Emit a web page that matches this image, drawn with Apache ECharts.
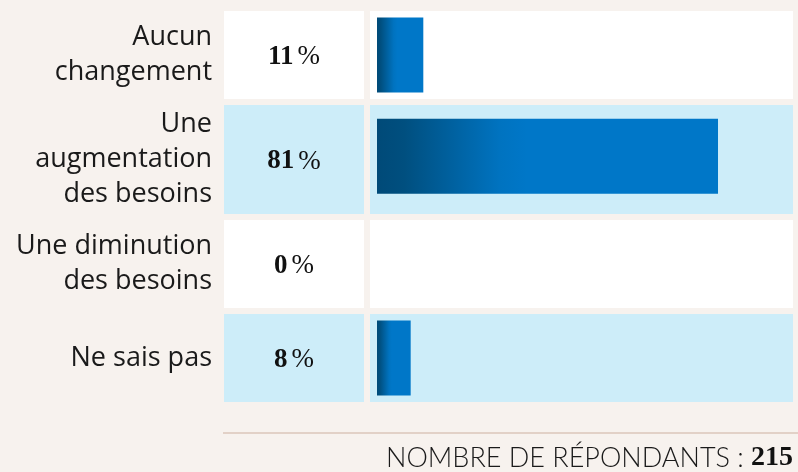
<!DOCTYPE html>
<html>
<head>
<meta charset="utf-8">
<script src="https://cdn.jsdelivr.net/npm/echarts@6/dist/echarts.min.js"></script>
<style>
  html, body { margin: 0; padding: 0; background: #f7f2ee; }
  #chart { width: 798px; height: 472px; }
</style>
</head>
<body>
<div id="chart"></div>
<script>
// données
const categories = ['Aucun\nchangement', 'Une\naugmentation\ndes besoins', 'Une diminution\ndes besoins', 'Ne sais pas']
const values = [11, 81, 0, 8]
const respondents = 215

// hauteur de ligne selon le nombre de lignes du libellé
const rowGap = 6
const rowHeights = categories.map(c => Math.max(88, c.split('\n').length * 35 + 4))
const rows = []
let acc = 0
rowHeights.forEach((h, i) => {
  rows.push([values[i], acc, acc + h, i])
  acc += h + rowGap
})
const totalH = acc - rowGap

const barGradient = new echarts.graphic.LinearGradient(0, 0, 1, 0, [
  { offset: 0, color: '#004a78' },
  { offset: 0.08, color: '#004f7f' },
  { offset: 0.36, color: '#0073c0' },
  { offset: 0.44, color: '#0077c8' },
  { offset: 1, color: '#0077c8' },
])

function renderRow(params, api) {
  const v = api.value(0)
  const y0 = api.value(1)
  const y1 = api.value(2)
  const i = api.value(3)
  const p0 = api.coord([0, y0])
  const p1 = api.coord([0, y1])
  const xEnd = api.coord([v, y0])[0]
  const top = p0[1]
  const h = p1[1] - top
  const x0 = p0[0]
  const fill = i % 2 === 1 ? '#cdedf9' : '#ffffff'
  const barH = 75
  // la barre reste un peu au-dessus du centre dans les lignes hautes
  const barY = top + 6.5 + (h - 88) * 0.35
  return {
    type: 'group',
    children: [
      // case du pourcentage
      { type: 'rect', shape: { x: x0 - 153, y: top, width: 140, height: h }, style: { fill: fill } },
      // case de la barre
      { type: 'rect', shape: { x: x0 - 7, y: top, width: 423, height: h }, style: { fill: fill } },
      {
        type: 'rect',
        shape: { x: x0, y: barY, width: Math.max(0, xEnd - x0), height: barH },
        style: { fill: barGradient },
      },
      {
        type: 'text',
        x: x0 - 165,
        y: top + h / 2,
        style: {
          text: categories[i],
          align: 'right',
          verticalAlign: 'middle',
          font: '27px "Open Sans"',
          lineHeight: 35,
          fill: '#1a1a1a',
        },
      },
      {
        type: 'text',
        x: x0 - 83,
        y: top + h / 2 + 2,
        style: {
          text: '{n|' + v + '}{s| }{p|%}',
          align: 'center',
          verticalAlign: 'middle',
          rich: {
            n: { fontFamily: 'Liberation Serif', fontWeight: 'bold', fontSize: 27, fill: '#111' },
            s: { fontSize: 14 },
            p: { fontFamily: 'Liberation Serif', fontSize: 27, fill: '#111' },
          },
        },
      },
    ],
  }
}

const option = {
  backgroundColor: '#f7f2ee',
  animation: false,
  grid: { left: 377, right: -1, top: 11, height: totalH },
  xAxis: { type: 'value', min: 0, max: 100, show: false },
  yAxis: { type: 'value', min: 0, max: totalH, inverse: true, show: false },
  series: [
    {
      type: 'custom',
      renderItem: renderRow,
      clip: false,
      encode: { x: 0, y: 1 },
      data: rows,
    },
  ],
  graphic: [
    {
      type: 'line',
      shape: { x1: 223, y1: 433, x2: 798, y2: 433 },
      style: { stroke: '#e2d1c7', lineWidth: 2 },
    },
    {
      type: 'text',
      right: 5,
      top: 444,
      style: {
        text: '{a|NOMBRE DE RÉPONDANTS : }{b|' + respondents + '}',
        rich: {
          a: { fontFamily: 'Lato', fontWeight: 300, fontSize: 27, fill: '#1a1a1a' },
          b: { fontFamily: 'Liberation Serif', fontWeight: 'bold', fontSize: 28, fill: '#111' },
        },
      },
    },
  ],
}

const chart = echarts.init(document.getElementById('chart'))
chart.setOption(option)
window.onresize = function () {
  chart.resize()
}
</script>
</body>
</html>
